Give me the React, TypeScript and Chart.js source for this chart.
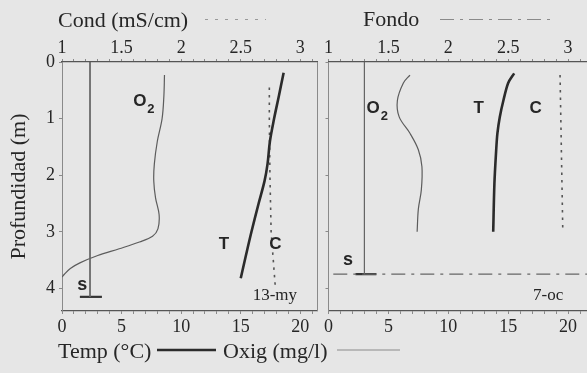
import React, { useEffect, useRef } from "react";
import { Chart, registerables } from "chart.js";

Chart.register(...registerables);

// ---------------- Data ----------------
const depthTickValues = [0, 1, 2, 3, 4];
const tempTickValues = [0, 5, 10, 15, 20];
const condTickValues = [1, 1.5, 2, 2.5, 3];

// Panel "13-my"
const mayO2Depth = [0.23, 0.6, 1.0, 1.4, 1.8, 2.1, 2.4, 2.7, 2.95, 3.08, 3.18, 3.3, 3.42, 3.55, 3.65, 3.75, 3.8];
const mayO2 = [8.6, 8.55, 8.4, 8.0, 7.75, 7.7, 7.85, 8.15, 8.05, 7.6, 6.5, 4.8, 3.0, 1.5, 0.7, 0.2, 0.0];
const mayTempDepth = [0.19, 0.6, 1.0, 1.4, 1.8, 2.1, 2.5, 3.0, 3.45, 3.82];
const mayTemp = [18.6, 18.2, 17.8, 17.45, 17.25, 17.0, 16.5, 15.9, 15.4, 15.0];
const mayCondDepth = [0.45, 1.0, 2.0, 3.0, 3.97];
const mayCond = [2.74, 2.74, 2.745, 2.755, 2.79];
const maySecchiLineX = [2.35, 2.35];
const maySecchiLineDepth = [0, 4.15];
const maySecchiBarX = [1.5, 3.35];
const maySecchiBarDepth = [4.15, 4.15];

// Panel "7-oc"
const octO2Depth = [0.23, 0.37, 0.68, 0.97, 1.26, 1.55, 1.85, 2.26, 2.6, 3.0];
const octO2 = [6.8, 6.25, 5.75, 5.9, 6.8, 7.5, 7.8, 7.75, 7.5, 7.4];
const octTempDepth = [0.2, 0.37, 0.68, 0.97, 1.26, 1.55, 2.15, 3.0];
const octTemp = [15.5, 15.0, 14.6, 14.3, 14.1, 14.0, 13.85, 13.75];
const octCondDepth = [0.23, 3.0];
const octCond = [2.933, 2.956];
const octSecchiLineX = [3.0, 3.0];
const octSecchiLineDepth = [0, 3.75];
const octSecchiBarX = [2.25, 4.0];
const octSecchiBarDepth = [3.75, 3.75];
const octBottomX = [0.4, 21.83];
const octBottomDepth = [3.75, 3.75];

// ---------------- Styling ----------------
const SERIF = "'Liberation Serif', 'Times New Roman', serif";
const SANS = "'Liberation Sans', Arial, sans-serif";
const INK = "#262626";
const BG = "#e6e6e6";

type Label = { text: string; sub?: string; x: number; depth: number; serif?: boolean; align: CanvasTextAlign; size: number };

const mayLabels: Label[] = [
  { text: "O", sub: "2", x: 5.97, depth: 0.69, align: "left", size: 17 },
  { text: "T", x: 13.6, depth: 3.22, align: "center", size: 17 },
  { text: "C", x: 17.9, depth: 3.22, align: "center", size: 17 },
  { text: "s", x: 1.7, depth: 3.94, align: "center", size: 18 },
  { text: "13-my", x: 16.0, depth: 4.13, serif: true, align: "left", size: 17 },
];
const octLabels: Label[] = [
  { text: "O", sub: "2", x: 3.17, depth: 0.82, align: "left", size: 17 },
  { text: "T", x: 12.54, depth: 0.82, align: "center", size: 17 },
  { text: "C", x: 17.29, depth: 0.82, align: "center", size: 17 },
  { text: "s", x: 1.63, depth: 3.5, align: "center", size: 18 },
  { text: "7-oc", x: 17.08, depth: 4.13, serif: true, align: "left", size: 17 },
];

const pts = (xs: number[], ys: number[]) => xs.map((x, i) => ({ x, y: ys[i] }));

function lineDs(data: any, color: string, width: number, opts: any = {}) {
  return {
    data,
    showLine: true,
    borderColor: color,
    backgroundColor: color,
    borderWidth: width,
    pointRadius: 0,
    tension: 0.3,
    xAxisID: "x",
    yAxisID: "y",
    ...opts,
  };
}

function labelPlugin(labels: Label[]) {
  return {
    id: "panelLabels",
    afterDatasetsDraw(chart: any) {
      const { ctx } = chart;
      const xs = chart.scales.x;
      const ys = chart.scales.y;
      ctx.save();
      ctx.fillStyle = INK;
      ctx.textBaseline = "middle";
      labels.forEach((l) => {
        const px = xs.getPixelForValue(l.x);
        const py = ys.getPixelForValue(l.depth);
        ctx.font = l.serif ? `${l.size}px ${SERIF}` : `bold ${l.size}px ${SANS}`;
        ctx.textAlign = l.align;
        ctx.fillText(l.text, px, py);
        if (l.sub) {
          const w = ctx.measureText(l.text).width;
          ctx.font = `bold 13px ${SANS}`;
          ctx.textAlign = "left";
          ctx.fillText(l.sub, px + w + 1, py + 8);
        }
      });
      ctx.restore();
    },
  };
}

const headerPlugin = {
  id: "headerFooter",
  afterDraw(chart: any) {
    const { ctx, chartArea } = chart;
    ctx.save();
    // right frame of panel 1
    ctx.strokeStyle = "#8a8a8a";
    ctx.lineWidth = 1;
    ctx.beginPath();
    ctx.moveTo(chartArea.right + 0.5, chartArea.top);
    ctx.lineTo(chartArea.right + 0.5, chartArea.bottom);
    ctx.stroke();

    ctx.fillStyle = INK;
    ctx.font = `22px ${SERIF}`;
    ctx.textBaseline = "alphabetic";
    ctx.textAlign = "left";
    ctx.fillText("Cond (mS/cm)", 58, 27);
    ctx.fillText("Fondo", 363, 26);
    ctx.fillText("Temp (°C)", 58, 358);
    ctx.fillText("Oxig (mg/l)", 223, 358);

    const seg = (x1: number, x2: number, y: number, color: string, w: number, dash: number[]) => {
      ctx.strokeStyle = color;
      ctx.lineWidth = w;
      ctx.setLineDash(dash);
      ctx.beginPath();
      ctx.moveTo(x1, y);
      ctx.lineTo(x2, y);
      ctx.stroke();
    };
    seg(205, 266, 19.5, "#9a9a9a", 1, [3, 7]);
    seg(440, 556, 19.5, "#8a8a8a", 1, [14, 6, 3, 6]);
    seg(157, 216, 350, "#2b2b2b", 2.4, []);
    seg(337, 400, 350, "#8a8a8a", 1, []);
    ctx.setLineDash([]);
    ctx.restore();
  },
};

function scalesFor(opts: { tempMax: number; condMax: number; yLabels: boolean; yWidth: number }) {
  const tickFont = { family: SERIF, size: 18 };
  return {
    x: {
      type: "linear",
      position: "bottom",
      min: 0,
      max: opts.tempMax,
      afterFit: (s: any) => { s.height = 62; },
      ticks: {
        stepSize: 1,
        maxTicksLimit: 100,
        autoSkip: false,
        includeBounds: false,
        maxRotation: 0,
        padding: 2,
        color: INK,
        font: tickFont,
        callback: (v: number) => (tempTickValues.includes(v) ? String(v) : ""),
      },
      grid: { display: true, drawOnChartArea: false, drawTicks: true, tickLength: 3, color: "#8a8a8a" },
      border: { display: true, color: "#555", width: 1.3 },
    },
    xc: {
      type: "linear",
      position: "top",
      min: 1,
      max: opts.condMax,
      afterFit: (s: any) => { s.height = 62; },
      ticks: {
        stepSize: 0.1,
        maxTicksLimit: 100,
        autoSkip: false,
        includeBounds: false,
        maxRotation: 0,
        padding: 0,
        color: INK,
        font: tickFont,
        callback: (v: number) => (condTickValues.some((c) => Math.abs(c - v) < 1e-6) ? String(v) : ""),
      },
      grid: { display: true, drawOnChartArea: false, drawTicks: true, tickLength: 3, color: "#8a8a8a" },
      border: { display: true, color: "#555", width: 1.3 },
    },
    y: {
      type: "linear",
      position: "left",
      reverse: true,
      min: 0,
      max: 4.4,
      afterFit: (s: any) => { s.width = opts.yWidth; },
      ticks: {
        display: opts.yLabels,
        stepSize: 1,
        includeBounds: false,
        padding: 4,
        color: INK,
        font: tickFont,
        callback: (v: number) => (depthTickValues.includes(v) ? String(v) : ""),
      },
      title: opts.yLabels
        ? { display: true, text: "Profundidad (m)", color: INK, font: { family: SERIF, size: 22 }, padding: { top: 6, bottom: 0 } }
        : { display: false },
      grid: { display: true, drawOnChartArea: false, drawTicks: true, tickLength: 3, color: "#8a8a8a" },
      border: { display: true, color: "#8a8a8a", width: 1 },
    },
  };
}

export default function App() {
  const c1 = useRef<HTMLCanvasElement>(null);
  const c2 = useRef<HTMLCanvasElement>(null);

  useEffect(() => {
    const ch1 = new Chart(c1.current!, {
      type: "scatter",
      data: {
        datasets: [
          lineDs(pts(maySecchiLineX, maySecchiLineDepth), "#666", 1, { tension: 0 }),
          lineDs(pts(maySecchiBarX, maySecchiBarDepth), "#333", 2.2, { tension: 0 }),
          lineDs(pts(mayO2, mayO2Depth), "#5c5c5c", 1.2, { tension: 0.35 }),
          lineDs(pts(mayTemp, mayTempDepth), "#2b2b2b", 2.6, { tension: 0.35 }),
          lineDs(pts(mayCond, mayCondDepth), "#555", 1.6, { xAxisID: "xc", borderDash: [2.5, 5], tension: 0 }),
        ],
      } as any,
      options: {
        responsive: false,
        animation: false,
        layout: { padding: { left: 0, right: 270, top: 0, bottom: 0 } },
        plugins: { legend: { display: false }, tooltip: { enabled: false } },
        scales: scalesFor({ tempMax: 21.4, condMax: 3.14, yLabels: true, yWidth: 62 }) as any,
      },
      plugins: [labelPlugin(mayLabels), headerPlugin],
    });

    const ch2 = new Chart(c2.current!, {
      type: "scatter",
      data: {
        datasets: [
          lineDs(pts(octSecchiLineX, octSecchiLineDepth), "#666", 1, { tension: 0 }),
          lineDs(pts(octBottomX, octBottomDepth), "#666", 1.2, { tension: 0, borderDash: [14, 6, 3, 6] }),
          lineDs(pts(octSecchiBarX, octSecchiBarDepth), "#333", 2.2, { tension: 0 }),
          lineDs(pts(octO2, octO2Depth), "#5c5c5c", 1.2, { tension: 0.35 }),
          lineDs(pts(octTemp, octTempDepth), "#2b2b2b", 2.6),
          lineDs(pts(octCond, octCondDepth), "#555", 1.6, { xAxisID: "xc", borderDash: [2.5, 5], tension: 0 }),
        ],
      } as any,
      options: {
        responsive: false,
        animation: false,
        layout: { padding: 0 },
        plugins: { legend: { display: false }, tooltip: { enabled: false } },
        scales: scalesFor({ tempMax: 21.83, condMax: 3.183, yLabels: false, yWidth: 6 }) as any,
      },
      plugins: [labelPlugin(octLabels)],
    });

    return () => {
      ch1.destroy();
      ch2.destroy();
    };
  }, []);

  return (
    <div style={{ position: "fixed", left: 0, top: 0, width: 587, height: 373, background: BG, overflow: "hidden" }}>
      <canvas ref={c1} width={587} height={373} style={{ position: "absolute", left: 0, top: 0 }} />
      <canvas ref={c2} width={268} height={373} style={{ position: "absolute", left: 322, top: 0 }} />
    </div>
  );
}
